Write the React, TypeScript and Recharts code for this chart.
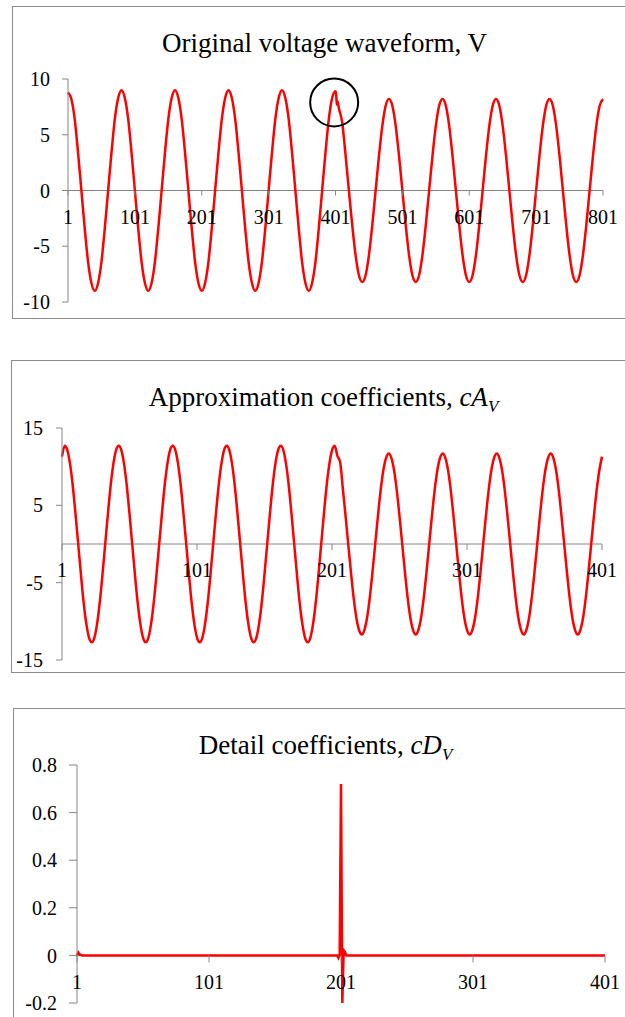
import { LineChart, Line, XAxis, YAxis, ReferenceLine, ReferenceDot } from 'recharts'

const FONT = '"Liberation Serif", "Times New Roman", serif'
const RED = '#ff0000'
const GREY = '#868686'
const BORDER = '#8c8c8c'

// original voltage waveform, read every 5th sample (1, 6, 11 ... 801)
const VOLTAGE_STEP = 5
const voltage = [
  8.8, 8.2, 6.4, 3.4, 0.0, -3.4, -6.4, -8.3, -9.0, -8.3, -6.4, -3.4, 0.0, 3.4, 6.4, 8.3,
  9.0, 8.3, 6.4, 3.4, 0.0, -3.4, -6.4, -8.3, -9.0, -8.3, -6.4, -3.4, 0.0, 3.4, 6.4, 8.3,
  9.0, 8.3, 6.4, 3.4, 0.0, -3.4, -6.4, -8.3, -9.0, -8.3, -6.4, -3.4, 0.0, 3.4, 6.4, 8.3,
  9.0, 8.3, 6.4, 3.4, 0.0, -3.4, -6.4, -8.3, -9.0, -8.3, -6.4, -3.4, 0.0, 3.4, 6.4, 8.3,
  9.0, 8.3, 6.4, 3.4, 0.0, -3.4, -6.4, -8.3, -9.0, -8.3, -6.4, -3.4, 0.0, 3.4, 6.4, 8.3,
  8.9, 7.4, 6.1, 3.2, 0.0, -3.1, -5.8, -7.6, -8.2, -7.6, -5.8, -3.1, 0.0, 3.1, 5.8, 7.6,
  8.2, 7.6, 5.8, 3.1, 0.0, -3.1, -5.8, -7.6, -8.2, -7.6, -5.8, -3.1, 0.0, 3.1, 5.8, 7.6,
  8.2, 7.6, 5.8, 3.1, 0.0, -3.1, -5.8, -7.6, -8.2, -7.6, -5.8, -3.1, 0.0, 3.1, 5.8, 7.6,
  8.2, 7.6, 5.8, 3.1, 0.0, -3.1, -5.8, -7.6, -8.2, -7.6, -5.8, -3.1, 0.0, 3.1, 5.8, 7.6,
  8.2, 7.6, 5.8, 3.1, 0.0, -3.1, -5.8, -7.6, -8.2, -7.6, -5.8, -3.1, 0.0, 3.1, 5.8, 7.6,
  8.2,
]
// extra samples around the disturbance (circled peak near 401)
const notchIdx = [402, 403, 404]
const notchVal = [8.6, 7.7, 8.0]
const voltageTicksX = [1, 101, 201, 301, 401, 501, 601, 701, 801]
const voltageTicksY = [-10, -5, 0, 5, 10]

// approximation coefficients, every 2nd sample (1, 3, 5 ... 401)
const APPROX_STEP = 2
const approx = [
  11.3,
  12.7, 12.1, 10.3, 7.5, 3.9, 0.0, -3.9, -7.5, -10.3, -12.1, -12.7, -12.1, -10.3, -7.5, -3.9, 0.0, 3.9, 7.5, 10.3, 12.1,
  12.7, 12.1, 10.3, 7.5, 3.9, 0.0, -3.9, -7.5, -10.3, -12.1, -12.7, -12.1, -10.3, -7.5, -3.9, 0.0, 3.9, 7.5, 10.3, 12.1,
  12.7, 12.1, 10.3, 7.5, 3.9, 0.0, -3.9, -7.5, -10.3, -12.1, -12.7, -12.1, -10.3, -7.5, -3.9, 0.0, 3.9, 7.5, 10.3, 12.1,
  12.7, 12.1, 10.3, 7.5, 3.9, 0.0, -3.9, -7.5, -10.3, -12.1, -12.7, -12.1, -10.3, -7.5, -3.9, 0.0, 3.9, 7.5, 10.3, 12.1,
  12.7, 12.1, 10.3, 7.5, 3.9, 0.0, -3.9, -7.5, -10.3, -12.1, -12.7, -12.1, -10.3, -7.5, -3.9, 0.0, 3.9, 7.5, 10.3, 12.1,
  12.7, 11.4, 10.6, 7.2, 3.7, 0.0, -3.6, -6.9, -9.5, -11.1, -11.7, -11.1, -9.5, -6.9, -3.6, 0.0, 3.6, 6.9, 9.5, 11.1,
  11.7, 11.1, 9.5, 6.9, 3.6, 0.0, -3.6, -6.9, -9.5, -11.1, -11.7, -11.1, -9.5, -6.9, -3.6, 0.0, 3.6, 6.9, 9.5, 11.1,
  11.7, 11.1, 9.5, 6.9, 3.6, 0.0, -3.6, -6.9, -9.5, -11.1, -11.7, -11.1, -9.5, -6.9, -3.6, 0.0, 3.6, 6.9, 9.5, 11.1,
  11.7, 11.1, 9.5, 6.9, 3.6, 0.0, -3.6, -6.9, -9.5, -11.1, -11.7, -11.1, -9.5, -6.9, -3.6, 0.0, 3.6, 6.9, 9.5, 11.1,
  11.7, 11.1, 9.5, 6.9, 3.6, 0.0, -3.6, -6.9, -9.5, -11.1, -11.7, -11.1, -9.5, -6.9, -3.6, 0.0, 3.6, 6.9, 9.5, 11.3,
]
const approxTicksX = [1, 101, 201, 301, 401]
const approxTicksY = [-15, -5, 5, 15]

// detail coefficients: flat except the spike at the disturbance
const detailIdx = [1, 2, 3, 5, 198, 199, 200, 201, 202, 203, 204, 205, 401]
const detailVal = [0.0, 0.012, 0.004, 0.0, 0.0, -0.01, 0.005, 0.72, -0.2, 0.022, 0.015, 0.0, 0.0]
const detailTicksX = [1, 101, 201, 301, 401]
const detailTicksY = [-0.2, 0, 0.2, 0.4, 0.6, 0.8]

const voltageData = voltage
  .map((v, i) => ({ n: 1 + i * VOLTAGE_STEP, v }))
  .concat(notchIdx.map((n, i) => ({ n, v: notchVal[i] })))
  .sort((a, b) => a.n - b.n)

const approxData = approx.map((v, i) => ({ n: 1 + i * APPROX_STEP, v }))

const detailData = detailIdx.map((n, i) => ({ n, v: detailVal[i] }))

const tickStyle = { fill: '#000', fontSize: 20, fontFamily: FONT }

// x axis sits on y = 0, so ticks + labels are drawn at the zero line
const xTicks = (ticks: number[], len: number) =>
  ticks.map((t) => (
    <ReferenceDot
      key={t}
      x={t}
      y={0}
      r={0}
      shape={(p: any) => (
        <g>
          <line x1={p.cx} y1={p.cy} x2={p.cx} y2={p.cy + len} stroke={GREY} strokeWidth={1} />
          <text x={p.cx} y={p.cy + 26} dy="0.355em" textAnchor="middle" fontFamily={FONT} fontSize={20} fill="#000">
            {t}
          </text>
        </g>
      )}
    />
  ))

function Panel({ left, top, title, children }: any) {
  return (
    <div style={{ position: 'absolute', left, top, width: 625, height: 313 }}>
      {children}
      <div style={{ position: 'absolute', inset: 0, border: `1px solid ${BORDER}` }} />
      <div
        style={{
          position: 'absolute',
          top: 24,
          left: 0,
          width: 625,
          textAlign: 'center',
          fontFamily: FONT,
          fontSize: 27,
          lineHeight: '27px',
          color: '#000',
          whiteSpace: 'nowrap',
        }}
      >
        {title}
      </div>
    </div>
  )
}

const Sub = ({ children }: any) => (
  <sub style={{ fontSize: 17, lineHeight: 0, fontStyle: 'italic' }}>{children}</sub>
)

export default function App() {
  return (
    <div style={{ position: 'absolute', left: 0, top: 0, width: 625, height: 1017, overflow: 'hidden', background: '#fff' }}>
      <Panel left={12} top={6} title="Original voltage waveform, V">
        <LineChart width={625} height={313} data={voltageData} margin={{ top: 73, right: 34, bottom: 17, left: 0 }}>
          <XAxis type="number" dataKey="n" domain={[1, 801]} hide />
          <YAxis
            type="number"
            domain={[-10, 10]}
            ticks={voltageTicksY}
            interval={0}
            width={56}
            tickSize={6}
            tickMargin={12}
            axisLine={{ stroke: GREY }}
            tickLine={{ stroke: GREY }}
            tick={tickStyle}
          />
          <ReferenceLine y={0} stroke={GREY} strokeWidth={1} />
          {xTicks(voltageTicksX, 5)}
          <Line type="monotone" dataKey="v" stroke={RED} strokeWidth={2.5} dot={false} activeDot={false} isAnimationActive={false} />
          <ReferenceDot x={399} y={7.9} r={24} fill="none" stroke="#000" strokeWidth={2} />
        </LineChart>
      </Panel>

      <Panel
        left={11}
        top={360}
        title={
          <>
            Approximation coefficients, <i>cA</i>
            <Sub>V</Sub>
          </>
        }
      >
        <LineChart width={625} height={313} data={approxData} margin={{ top: 68, right: 34, bottom: 13, left: 0 }}>
          <XAxis type="number" dataKey="n" domain={[1, 401]} hide />
          <YAxis
            type="number"
            domain={[-15, 15]}
            ticks={approxTicksY}
            interval={0}
            width={51}
            tickSize={6}
            tickMargin={13}
            axisLine={{ stroke: GREY }}
            tickLine={{ stroke: GREY }}
            tick={tickStyle}
          />
          <ReferenceLine y={0} stroke={GREY} strokeWidth={1} />
          {xTicks(approxTicksX, 6)}
          <Line type="monotone" dataKey="v" stroke={RED} strokeWidth={2.5} dot={false} activeDot={false} isAnimationActive={false} />
        </LineChart>
      </Panel>

      <Panel
        left={13}
        top={708}
        title={
          <>
            Detail coefficients, <i>cD</i>
            <Sub>V</Sub>
          </>
        }
      >
        <LineChart width={625} height={313} data={detailData} margin={{ top: 57, right: 33, bottom: 18, left: 0 }}>
          <XAxis type="number" dataKey="n" domain={[1, 401]} hide />
          <YAxis
            type="number"
            domain={[-0.2, 0.8]}
            ticks={detailTicksY}
            interval={0}
            width={64}
            tickSize={8}
            tickMargin={12}
            axisLine={{ stroke: GREY }}
            tickLine={{ stroke: GREY }}
            tick={tickStyle}
          />
          <ReferenceLine y={0} stroke={GREY} strokeWidth={1} />
          {xTicks(detailTicksX, 7)}
          <Line type="linear" dataKey="v" stroke={RED} strokeWidth={2.5} dot={false} activeDot={false} isAnimationActive={false} />
        </LineChart>
      </Panel>
    </div>
  )
}
